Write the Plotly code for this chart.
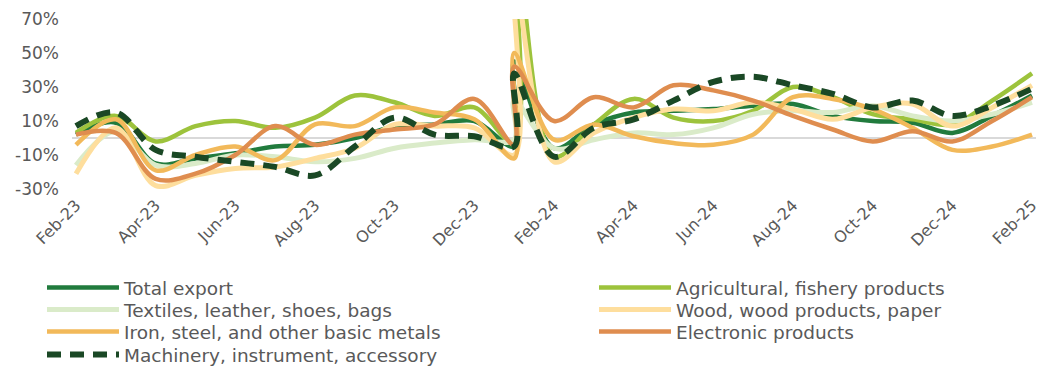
import plotly.graph_objects as go

# Month axis (tick every second month) and reporting periods; January 2024 is reported twice
months = ["Feb-23", "Mar-23", "Apr-23", "May-23", "Jun-23", "Jul-23", "Aug-23", "Sep-23",
          "Oct-23", "Nov-23", "Dec-23", "Jan-24", "Feb-24", "Mar-24", "Apr-24", "May-24",
          "Jun-24", "Jul-24", "Aug-24", "Sep-24", "Oct-24", "Nov-24", "Dec-24", "Jan-25", "Feb-25"]
periods = months[:12] + ["Jan-24"] + months[12:]

# Year-on-year growth, %
total_export = [2, 9, -15, -12, -9, -5, -4, 0, 7, 8, 10, -5, 45, -6, 8, 15, 16, 17, 19, 20, 13, 10, 9, 3, 13, 25]
agri_fishery = [3, 13, -2, 7, 10, 6, 12, 25, 21, 13, 18, -3, 130, -11, 8, 23, 12, 10, 16, 30, 24, 14, 11, 8, 22, 38]
textiles = [-16, 4, -16, -15, -10, -11, -14, -12, -6, -3, -1, -1, 22, -6, -1, 3, 2, 6, 14, 16, 15, 19, 13, 10, 14, 21]
wood_paper = [-21, 6, -28, -22, -18, -17, -12, -6, 8, 7, 6, -10, 95, -14, 3, 12, 17, 16, 21, 17, 11, 18, 20, 7, 18, 31]
iron_steel = [-4, 11, -19, -10, -5, -13, 8, 7, 18, 15, 11, -12, 50, -1, 8, 1, -3, -4, 2, 24, 23, 17, 6, -7, -5, 2]
electronics = [2, 3, -24, -21, -10, 7, -4, 2, 5, 8, 23, -4, 42, 10, 24, 18, 31, 28, 22, 13, 5, -2, 4, -2, 10, 24]
machinery = [7, 15, -7, -11, -14, -17, -22, -5, 12, 2, 1, -5, 38, -11, 6, 11, 22, 33, 36, 31, 26, 18, 22, 13, 19, 29]

y_ticks = [-30, -10, 10, 30, 50, 70]
y_ticktext = ["-30%", "-10%", "10%", "30%", "50%", "70%"]

FONT = "DejaVu Sans"
GREY = "#595959"
W, H = 1045, 368

series = [
    ("Total export", total_export, "#217B3D", 4.5, "solid", "legend", 42, 288),
    ("Agricultural, fishery products", agri_fishery, "#9DC33C", 4.5, "solid", "legend2", 594, 288),
    ("Textiles, leather, shoes, bags", textiles, "#DAEBC9", 5, "solid", "legend3", 42, 310),
    ("Wood, wood products, paper", wood_paper, "#FEDE9D", 5, "solid", "legend4", 594, 310),
    ("Iron, steel, and other basic metals", iron_steel, "#F2B95A", 4.5, "solid", "legend5", 42, 332),
    ("Electronic products", electronics, "#DF8D4F", 4.5, "solid", "legend6", 594, 332),
    ("Machinery, instrument, accessory", machinery, "#1A4825", 6, "14px,9px", "legend7", 42, 355),
]

fig = go.Figure()
legends = {}
for name, vals, color, width, dash, leg, lx, ly in series:
    fig.add_trace(go.Scatter(
        x=periods, y=vals, name=name, mode="lines", legend=leg,
        line=dict(color=color, width=width, dash=dash, shape="spline", smoothing=1, simplify=False),
        hoverinfo="skip",
    ))
    legends[leg] = dict(
        x=lx / W, y=1 - ly / H, xref="container", yref="container",
        xanchor="left", yanchor="middle", bgcolor="rgba(0,0,0,0)",
        font=dict(family=FONT, size=18.5, color=GREY), itemwidth=72,
        itemclick=False, itemdoubleclick=False,
    )

fig.update_layout(
    width=W, height=H,
    margin=dict(l=72, r=9, t=19, b=179, autoexpand=False),
    paper_bgcolor="white", plot_bgcolor="white",
    font=dict(family=FONT, size=17, color=GREY),
    showlegend=True,
    **legends,
)
fig.update_xaxes(
    type="category", categoryorder="array", categoryarray=months,
    range=[-0.1, 24.1], tickvals=months[::2], tickangle=-45,
    showgrid=False, zeroline=False, showline=False, ticks="",
    ticklabelstandoff=3,
    tickfont=dict(family=FONT, size=16, color=GREY),
)
fig.update_yaxes(
    range=[-30, 70], tickvals=y_ticks, ticktext=y_ticktext,
    showgrid=False, zeroline=True, zerolinecolor="#D9D9D9", zerolinewidth=1.5,
    showline=False, ticks="", ticklabelstandoff=12,
    tickfont=dict(family=FONT, size=17, color=GREY),
)

fig.write_html("out.html")
